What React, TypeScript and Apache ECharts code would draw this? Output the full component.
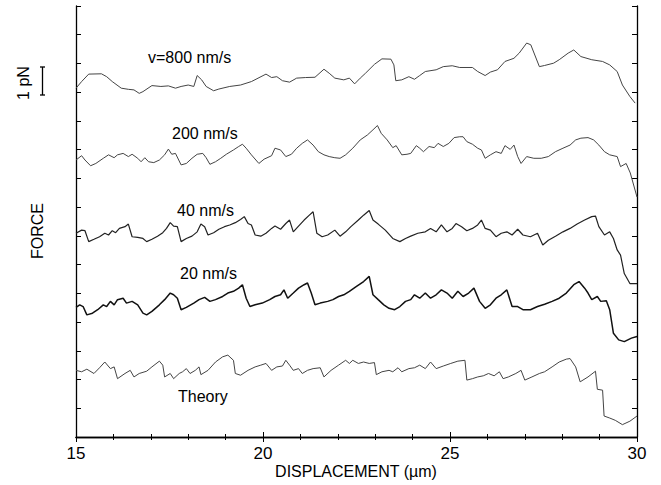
import React, { useEffect, useRef } from "react";
import * as echarts from "echarts";

// Displacement (µm) vs force (pN, offset per trace)
const v800: number[][] = [[15.00,12.14],[15.15,12.37],[15.34,12.63],[15.68,12.64],[15.82,12.54],[15.97,12.37],[16.21,12.14],[16.40,12.10],[16.55,12.08],[16.69,11.96],[16.79,12.02],[17.03,12.23],[17.27,12.20],[17.47,12.22],[17.66,12.14],[17.81,12.20],[18.00,12.25],[18.15,12.20],[18.24,12.58],[18.36,12.43],[18.48,12.20],[18.68,12.05],[18.82,12.11],[19.11,12.20],[19.40,12.25],[19.69,12.37],[20.08,12.63],[20.23,12.51],[20.37,12.54],[20.52,12.40],[20.71,12.35],[20.90,12.49],[21.14,12.51],[21.39,12.52],[21.63,12.80],[21.77,12.66],[21.92,12.49],[22.16,12.43],[22.31,12.49],[22.45,12.29],[22.60,12.49],[22.74,12.66],[22.98,12.97],[23.18,13.16],[23.42,13.15],[23.50,12.95],[23.55,12.40],[23.71,12.43],[23.90,12.54],[24.05,12.45],[24.19,12.58],[24.34,12.72],[24.63,12.78],[24.82,12.89],[25.06,12.92],[25.26,12.86],[25.60,12.86],[25.74,12.72],[25.94,12.58],[26.08,12.70],[26.27,12.78],[26.47,13.07],[26.71,13.18],[26.85,13.36],[27.05,13.71],[27.16,13.65],[27.39,12.89],[27.53,12.93],[27.77,13.01],[27.92,13.13],[28.16,13.36],[28.31,13.47],[28.50,13.24],[28.79,13.13],[29.08,13.07],[29.27,12.95],[29.47,12.72],[29.61,12.25],[29.81,11.85],[29.95,11.62]];

const v200: number[][] = [[15.00,9.64],[15.15,9.79],[15.24,9.64],[15.39,9.44],[15.53,9.52],[15.73,9.70],[15.87,9.82],[16.02,9.72],[16.11,9.82],[16.26,9.87],[16.40,9.76],[16.50,9.84],[16.65,9.70],[16.74,9.58],[16.84,9.72],[16.94,9.58],[17.08,9.55],[17.23,9.64],[17.37,9.82],[17.47,10.02],[17.56,9.84],[17.66,9.87],[17.81,9.47],[17.95,9.52],[18.10,9.70],[18.24,9.84],[18.39,9.87],[18.48,9.72],[18.58,9.49],[18.73,9.58],[18.87,9.70],[19.02,9.84],[19.21,9.99],[19.35,10.11],[19.45,10.19],[19.55,10.05],[19.69,9.82],[19.89,9.52],[20.03,9.67],[20.23,9.79],[20.32,10.05],[20.47,9.99],[20.61,9.76],[20.76,9.84],[20.90,10.05],[21.05,10.22],[21.19,10.34],[21.34,10.16],[21.48,9.93],[21.63,9.82],[21.77,9.76],[21.92,9.72],[22.06,9.70],[22.21,9.82],[22.40,10.05],[22.60,10.34],[22.79,10.51],[22.94,10.69],[23.06,10.84],[23.16,10.57],[23.32,10.34],[23.47,10.07],[23.56,10.14],[23.71,9.82],[23.85,9.84],[23.95,9.87],[24.10,10.14],[24.19,10.05],[24.29,9.93],[24.44,10.11],[24.58,10.07],[24.68,10.22],[24.82,10.11],[24.97,10.22],[25.11,10.42],[25.26,10.45],[25.35,10.45],[25.45,10.28],[25.60,10.19],[25.74,10.05],[25.84,9.99],[25.94,9.70],[26.08,9.82],[26.23,9.93],[26.37,9.87],[26.47,10.14],[26.61,10.01],[26.71,10.16],[26.81,9.76],[26.90,9.52],[27.05,9.76],[27.24,9.70],[27.44,9.70],[27.63,9.76],[27.82,9.93],[28.02,10.05],[28.21,10.16],[28.36,10.34],[28.50,10.40],[28.69,10.42],[28.84,10.34],[28.98,10.16],[29.13,9.93],[29.27,9.82],[29.47,9.76],[29.56,9.41],[29.71,9.52],[29.82,9.19],[30.00,8.35]];

const v40: number[][] = [[15.00,7.09],[15.15,7.20],[15.24,7.18],[15.34,6.80],[15.48,6.88],[15.63,6.97],[15.77,7.09],[15.87,7.03],[15.97,7.18],[16.06,7.11],[16.16,7.26],[16.31,7.32],[16.40,7.41],[16.50,6.97],[16.65,6.95],[16.79,6.91],[16.89,6.80],[17.03,6.88],[17.18,6.99],[17.32,7.11],[17.42,7.26],[17.52,7.46],[17.61,7.34],[17.71,7.32],[17.81,6.80],[17.95,6.91],[18.10,6.99],[18.24,7.14],[18.34,7.41],[18.44,7.32],[18.53,7.03],[18.68,7.11],[18.82,7.23],[18.97,7.32],[19.11,7.38],[19.26,7.46],[19.40,7.57],[19.50,7.67],[19.60,7.43],[19.69,7.38],[19.79,7.03],[19.94,6.99],[20.08,7.09],[20.23,7.26],[20.32,7.34],[20.47,7.23],[20.61,7.43],[20.71,7.55],[20.81,7.14],[20.95,7.34],[21.10,7.55],[21.24,7.72],[21.34,7.84],[21.44,7.09],[21.58,6.97],[21.73,7.03],[21.92,7.20],[22.06,6.99],[22.21,7.14],[22.35,7.32],[22.55,7.55],[22.69,7.72],[22.84,7.88],[22.94,7.55],[23.08,7.41],[23.27,7.20],[23.47,6.91],[23.66,6.80],[23.81,6.91],[23.95,6.99],[24.14,7.09],[24.34,7.14],[24.48,7.26],[24.63,7.14],[24.77,7.38],[24.92,7.14],[25.06,7.26],[25.16,7.43],[25.31,7.32],[25.45,7.18],[25.60,7.26],[25.74,7.38],[25.84,7.55],[25.94,7.26],[26.08,7.20],[26.23,6.97],[26.37,7.09],[26.52,7.14],[26.66,7.03],[26.81,7.23],[26.95,7.03],[27.15,6.97],[27.34,7.09],[27.48,6.68],[27.63,6.85],[27.82,6.99],[28.02,7.14],[28.21,7.26],[28.40,7.41],[28.60,7.55],[28.79,7.67],[28.89,7.69],[28.98,7.32],[29.13,7.03],[29.27,7.14],[29.37,6.91],[29.47,6.51],[29.56,6.33],[29.66,5.69],[29.81,5.34],[30.00,5.34]];

const v20: number[][] = [[15.00,4.51],[15.10,4.60],[15.19,4.54],[15.29,4.25],[15.44,4.31],[15.58,4.43],[15.73,4.60],[15.82,4.54],[15.92,4.72],[16.02,4.60],[16.11,4.78],[16.26,4.83],[16.35,4.66],[16.50,4.72],[16.65,4.60],[16.79,4.31],[16.89,4.25],[17.03,4.37],[17.23,4.60],[17.37,4.78],[17.52,5.01],[17.61,4.95],[17.71,4.83],[17.81,4.43],[17.95,4.51],[18.15,4.66],[18.29,4.78],[18.44,4.86],[18.58,4.72],[18.73,4.78],[18.92,4.89],[19.06,5.01],[19.21,5.07],[19.35,5.18],[19.45,5.30],[19.55,4.83],[19.65,4.54],[19.79,4.60],[19.98,4.66],[20.18,4.78],[20.32,4.89],[20.47,4.95],[20.56,5.12],[20.66,4.83],[20.81,5.01],[20.95,5.18],[21.10,5.30],[21.19,5.36],[21.29,5.01],[21.39,4.60],[21.53,4.66],[21.73,4.72],[21.87,4.78],[22.02,4.89],[22.16,4.95],[22.31,5.07],[22.50,5.24],[22.69,5.41],[22.84,5.59],[22.94,4.95],[23.08,4.78],[23.23,4.60],[23.37,4.48],[23.52,4.43],[23.66,4.54],[23.81,4.72],[23.95,4.78],[24.05,4.95],[24.19,4.83],[24.34,5.01],[24.48,4.83],[24.63,4.95],[24.77,5.12],[24.92,5.01],[25.06,4.83],[25.21,5.07],[25.35,4.89],[25.50,5.01],[25.64,5.18],[25.79,4.72],[25.94,4.48],[26.08,4.60],[26.23,4.83],[26.37,4.95],[26.52,5.12],[26.66,4.54],[26.81,4.54],[26.95,4.43],[27.15,4.43],[27.34,4.54],[27.53,4.62],[27.73,4.72],[27.92,4.83],[28.11,5.01],[28.31,5.30],[28.45,5.41],[28.60,5.18],[28.69,5.01],[28.79,4.78],[28.94,4.89],[29.03,4.72],[29.18,4.74],[29.27,4.43],[29.37,3.61],[29.51,3.38],[29.66,3.32],[29.85,3.44],[30.00,3.50]];

const theory: number[][] = [[15.00,2.32],[15.15,2.27],[15.29,2.36],[15.48,2.21],[15.63,2.41],[15.77,2.61],[15.92,2.38],[16.02,2.44],[16.11,2.03],[16.31,2.21],[16.45,2.32],[16.55,2.09],[16.69,2.21],[16.89,2.29],[17.03,2.44],[17.23,2.64],[17.32,2.50],[17.37,2.09],[17.52,2.21],[17.61,2.03],[17.76,2.21],[17.85,2.27],[17.95,2.38],[18.05,2.21],[18.19,2.32],[18.29,2.44],[18.34,2.17],[18.53,2.32],[18.73,2.61],[18.92,2.79],[19.06,2.85],[19.21,2.67],[19.26,2.21],[19.40,2.15],[19.60,2.32],[19.79,2.44],[19.94,2.50],[20.08,2.56],[20.23,2.32],[20.37,2.44],[20.52,2.47],[20.61,2.67],[20.71,2.50],[20.81,2.32],[20.95,2.38],[21.05,2.21],[21.19,2.32],[21.34,2.38],[21.53,2.41],[21.63,2.09],[21.82,2.32],[22.02,2.50],[22.21,2.67],[22.31,2.56],[22.40,2.67],[22.55,2.56],[22.69,2.61],[22.84,2.56],[22.98,2.59],[23.03,2.17],[23.18,2.27],[23.37,2.32],[23.47,2.27],[23.61,2.41],[23.71,2.27],[23.90,2.38],[24.05,2.41],[24.19,2.50],[24.34,2.38],[24.48,2.61],[24.63,2.38],[24.82,2.47],[25.02,2.56],[25.21,2.64],[25.40,2.67],[25.45,1.98],[25.60,2.03],[25.74,2.09],[25.89,2.13],[26.03,2.21],[26.18,2.13],[26.32,2.27],[26.42,2.03],[26.56,2.09],[26.76,2.21],[26.90,2.32],[27.00,1.98],[27.19,2.09],[27.39,2.21],[27.53,2.27],[27.73,2.44],[27.92,2.61],[28.11,2.71],[28.21,2.73],[28.36,2.44],[28.48,1.92],[28.69,2.09],[28.89,2.29],[28.94,1.66],[29.08,1.63],[29.12,0.73],[29.27,0.66],[29.42,0.58],[29.61,0.43],[29.81,0.55],[30.00,0.73]];

const seriesNames = ["v=800 nm/s", "200 nm/s", "40 nm/s", "20 nm/s", "Theory"];
const xMin = 15;
const xMax = 30;
const yMin = 0;
const yMax = 15;

const FONT = "'Liberation Sans', Arial, Helvetica, sans-serif";

export default function App() {
  const ref = useRef<HTMLDivElement>(null);
  useEffect(() => {
    document.body.style.margin = "0";
    const chart = echarts.init(ref.current!, null, { renderer: "svg" });
    const traces = [v800, v200, v40, v20, theory];
    const widths = [1, 1, 1.2, 1.5, 1];
    const colors = ["#444", "#444", "#222", "#111", "#444"];
    const axisLine = { show: true, lineStyle: { color: "#000", width: 1.3 } };
    const xCommon = {
      type: "value" as const,
      min: xMin,
      max: xMax,
      interval: 5,
      splitLine: { show: false },
      axisLine,
      axisTick: { show: true, inside: true, length: 5, lineStyle: { color: "#000", width: 1 } },
      minorTick: { show: true, splitNumber: 5, length: 3, lineStyle: { color: "#000", width: 1 } },
    };
    const yCommon = {
      type: "value" as const,
      min: yMin,
      max: yMax,
      interval: 1,
      splitLine: { show: false },
      axisLine,
      axisLabel: { show: false },
      axisTick: { show: true, inside: true, length: 5, lineStyle: { color: "#000", width: 1 } },
    };
    const labelPos = [
      [148, 57],
      [172, 133],
      [177, 210],
      [180, 273],
      [178, 396],
    ];
    const txt = (text: string, x: number, y: number, align: string, rotation = 0) => ({
      type: "text",
      x,
      y,
      rotation,
      style: {
        text,
        fontSize: 16,
        fontFamily: FONT,
        fill: "#000",
        align,
        verticalAlign: "middle",
        textAlign: align,
        textVerticalAlign: "middle",
      },
    });
    chart.setOption({
      animation: false,
      backgroundColor: "#fff",
      grid: { left: 76, right: 24, top: 6, bottom: 48, containLabel: false },
      xAxis: [
        {
          ...xCommon,
          position: "bottom",
          axisLabel: { show: true, margin: 8, color: "#000", fontSize: 17, fontFamily: FONT },
        },
        { ...xCommon, position: "top", axisLabel: { show: false } },
      ],
      yAxis: [
        { ...yCommon, position: "left" },
        { ...yCommon, position: "right" },
      ],
      series: traces.map((d, i) => ({
        name: seriesNames[i],
        type: "line",
        data: d,
        xAxisIndex: 0,
        yAxisIndex: 0,
        showSymbol: false,
        symbol: "none",
        lineStyle: { color: colors[i], width: widths[i] },
        silent: true,
      })),
      graphic: [
        ...seriesNames.map((t, i) => txt(t, labelPos[i][0], labelPos[i][1], "left")),
        txt("DISPLACEMENT (µm)", 356, 471, "center"),
        txt("FORCE", 37, 231, "center", Math.PI / 2),
        txt("1 pN", 23, 83, "center", Math.PI / 2),
        { type: "line", shape: { x1: 42.5, y1: 67, x2: 42.5, y2: 95 }, style: { stroke: "#000", lineWidth: 1.3 } },
        { type: "line", shape: { x1: 40, y1: 67, x2: 45, y2: 67 }, style: { stroke: "#000", lineWidth: 1.3 } },
        { type: "line", shape: { x1: 40, y1: 95, x2: 45, y2: 95 }, style: { stroke: "#000", lineWidth: 1.3 } },
      ],
    });
    return () => chart.dispose();
  }, []);
  return <div ref={ref} style={{ width: 661, height: 485 }} />;
}
